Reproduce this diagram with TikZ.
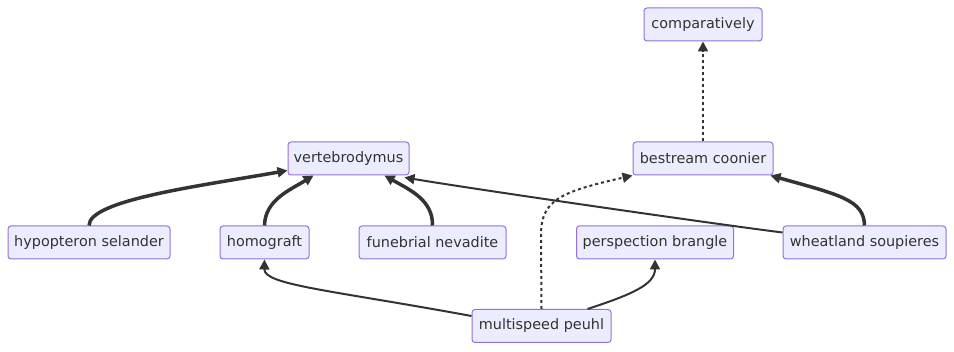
\documentclass[tikz,border=0pt]{standalone}
\usepackage{fontspec}
\setmainfont{DejaVu Sans}
\usetikzlibrary{arrows.meta,calc}
\definecolor{boxfill}{HTML}{ECECFF}
\definecolor{boxline}{HTML}{9370DB}
\definecolor{ink}{HTML}{333333}

\begin{document}
\begin{tikzpicture}[x=1pt,y=-1pt,
  box/.style={draw=boxline, fill=boxfill, rounded corners=3pt, line width=1pt,
    minimum height=33pt, inner sep=0pt, text=ink, font=\fontsize{14.4}{17}\selectfont},
  link/.style={draw=ink, line width=2pt, -{Triangle[length=10pt,width=10pt]}},
  thicklink/.style={link, line width=3.5pt},
  dottedlink/.style={link, dash pattern=on 3pt off 3pt}]
\useasboundingbox (0,0) rectangle (954,352);

% top row
\node[box, minimum width=118pt] (comp) at (703,24.5) {comparatively};
\node[box, minimum width=121pt] (vert) at (348.5,158.5) {vertebrodymus};
\node[box, minimum width=140pt] (best) at (703,158.5) {bestream coonier};
% middle row
\node[box, minimum width=162pt] (hyp) at (89,242.5) {hypopteron selander};
\node[box, minimum width=89pt] (homo) at (264.5,242.5) {homograft};
\node[box, minimum width=147pt] (fun) at (432.5,242.5) {funebrial nevadite};
\node[box, minimum width=157pt] (persp) at (655,242.5) {perspection brangle};
\node[box, minimum width=163pt] (wheat) at (864.5,242.5) {wheatland soupieres};
% bottom
\node[box, minimum width=139pt] (multi) at (541.5,326) {multispeed peuhl};

\draw[thicklink] (hyp.north) .. controls (89,200) and (200,186) .. ($(vert.south west)+(0,-5)$);
\draw[thicklink] (homo.north) .. controls (265,200) and (290,190) .. ($(vert.south)+(-35,0)$);
\draw[thicklink] (fun.north) .. controls (433,200) and (410,190) .. ($(vert.south)+(36,0)$);
\draw[link] ($(wheat.north west)+(0,7)$) .. controls (700,222) and (480,190) .. ($(vert.south east)+(-5,2)$);
\draw[thicklink] (wheat.north) .. controls (864,200) and (840,195) .. ($(best.south east)+(-3,0)$);
\draw[dottedlink] (best.north) -- (comp.south);
\draw[dottedlink] (multi.north) -- (541,235) .. controls (541,200) and (560,192) .. (best.south west);
\draw[link] ($(multi.north west)+(0,7)$) .. controls (330,290) and (264,285) .. (homo.south);
\draw[link] ($(multi.north)+(46,0)$) .. controls (630,295) and (655,285) .. (persp.south);
\end{tikzpicture}
\end{document}
